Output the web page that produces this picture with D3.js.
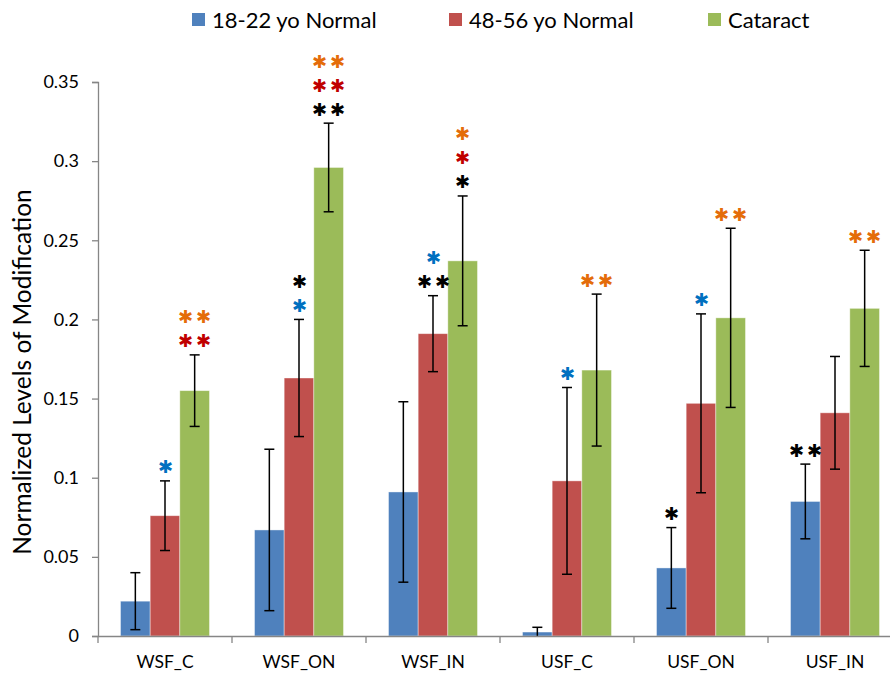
<!DOCTYPE html>
<html>
<head>
<meta charset="utf-8">
<script src="https://cdn.jsdelivr.net/npm/d3@7"></script>
<style>
  html, body { margin: 0; padding: 0; background: #fff; }
  svg { display: block; }
  text { font-family: Lato, "Open Sans", sans-serif; fill: #000; }
</style>
</head>
<body>
<svg id="chart" width="890" height="675"></svg>
<script>
// ---- data ----
const categories = ["WSF_C", "WSF_ON", "WSF_IN", "USF_C", "USF_ON", "USF_IN"];
const seriesNames = ["18-22 yo Normal", "48-56 yo Normal", "Cataract"];
const youngValues   = [0.022, 0.067, 0.091, 0.0025, 0.043, 0.085];
const youngErrors   = [0.018, 0.051, 0.057, 0.003, 0.0255, 0.0236];
const middleValues  = [0.076, 0.163, 0.191, 0.098, 0.147, 0.141];
const middleErrors  = [0.022, 0.037, 0.024, 0.059, 0.0565, 0.0356];
const cataractValues = [0.155, 0.296, 0.237, 0.168, 0.201, 0.207];
const cataractErrors = [0.0226, 0.028, 0.041, 0.048, 0.0566, 0.0367];
const yTickValues = [0, 0.05, 0.1, 0.15, 0.2, 0.25, 0.3, 0.35];
// significance marks: [category, series index, stack of [text, colour key] from bottom to top]
const significance = [
  ["WSF_C", 1, [["*", "blue"]]],
  ["WSF_C", 2, [["**", "red"], ["**", "orange"]]],
  ["WSF_ON", 1, [["*", "blue"], ["*", "black"]]],
  ["WSF_ON", 2, [["**", "black"], ["**", "red"], ["**", "orange"]]],
  ["WSF_IN", 1, [["**", "black"], ["*", "blue"]]],
  ["WSF_IN", 2, [["*", "black"], ["*", "red"], ["*", "orange"]]],
  ["USF_C", 1, [["*", "blue"]]],
  ["USF_C", 2, [["**", "orange"]]],
  ["USF_ON", 0, [["*", "black"]]],
  ["USF_ON", 1, [["*", "blue"]]],
  ["USF_ON", 2, [["**", "orange"]]],
  ["USF_IN", 0, [["**", "black"]]],
  ["USF_IN", 2, [["**", "orange"]]]
];

// ---- styles ----
const barColors = ["#4F81BD", "#C0504D", "#9BBB59"];
const starColors = { blue: "#0070C0", red: "#C00000", orange: "#E46C0A", black: "#000000" };
const axisColor = "#868686";

const seriesValues = [youngValues, middleValues, cataractValues];
const seriesErrors = [youngErrors, middleErrors, cataractErrors];

const svg = d3.select("#chart");
const plot = { left: 98, right: 902, top: 82, bottom: 636 };

const x0 = d3.scaleBand().domain(categories).range([plot.left, plot.right])
  .paddingInner(0.336).paddingOuter(0.168);
const x1 = d3.scaleBand().domain(d3.range(seriesNames.length)).range([0, x0.bandwidth()]);
const y = d3.scaleLinear().domain([0, 0.35]).range([plot.bottom, plot.top]);

// bars
const groups = svg.append("g").selectAll("g").data(categories).join("g")
  .attr("transform", c => `translate(${x0(c)},0)`);

groups.selectAll("rect").data((c, i) => seriesValues.map((s, k) => ({ k, v: s[i] })))
  .join("rect")
  .attr("x", d => x1(d.k))
  .attr("width", x1.bandwidth())
  .attr("y", d => y(d.v))
  .attr("height", d => y(0) - y(d.v))
  .attr("fill", d => barColors[d.k])
  .attr("stroke", "#ffffff").attr("stroke-opacity", 0.5).attr("stroke-width", 0.8);

// error bars
const errData = [];
categories.forEach((c, i) => {
  seriesValues.forEach((s, k) => {
    errData.push({ c, k, v: s[i], e: seriesErrors[k][i] });
  });
});
const capW = 5;
const eg = svg.append("g").attr("stroke", "#000").attr("stroke-width", 1.5);
errData.forEach(d => {
  const cx = x0(d.c) + x1(d.k) + x1.bandwidth() / 2;
  const hi = d.v + d.e, lo = Math.max(0, d.v - d.e);
  eg.append("line").attr("x1", cx).attr("x2", cx).attr("y1", y(hi)).attr("y2", y(lo));
  eg.append("line").attr("x1", cx - capW).attr("x2", cx + capW).attr("y1", y(hi)).attr("y2", y(hi));
  if (lo > 0) eg.append("line").attr("x1", cx - capW).attr("x2", cx + capW).attr("y1", y(lo)).attr("y2", y(lo));
});

// y axis
const yAxis = d3.axisLeft(y).tickValues(yTickValues).tickSize(6).tickPadding(13)
  .tickFormat(v => String(+v.toFixed(2)));
const yg = svg.append("g").attr("transform", `translate(${plot.left},0)`).call(yAxis);
yg.select(".domain").attr("stroke", axisColor).attr("stroke-width", 1.3);
yg.selectAll(".tick line").attr("stroke", axisColor).attr("stroke-width", 1.3);
yg.selectAll(".tick text").attr("font-size", 18).attr("font-family", "Lato, sans-serif").attr("fill", "#000");

// x axis
const xAxis = d3.axisBottom(x0).tickSize(0).tickPadding(20);
const xg = svg.append("g").attr("transform", `translate(0,${plot.bottom})`).call(xAxis);
xg.select(".domain").attr("stroke", axisColor).attr("stroke-width", 1.3);
xg.selectAll(".tick text").attr("font-size", 17.5).attr("font-family", "Lato, sans-serif").attr("fill", "#000");
// category boundary ticks
const step = x0.step();
const boundaries = d3.range(categories.length + 1).map(i => x0(categories[0]) - step * x0.paddingOuter() + i * step);
xg.selectAll(".bound").data(boundaries).join("line").attr("class", "bound")
  .attr("x1", d => d).attr("x2", d => d).attr("y1", 0).attr("y2", 7)
  .attr("stroke", axisColor).attr("stroke-width", 1.3);

// y axis title
svg.append("text")
  .attr("transform", `translate(31,372) rotate(-90)`)
  .attr("text-anchor", "middle").attr("font-size", 24.5)
  .text("Normalized Levels of Modification");

// legend
const legendX = [192, 449, 708];
const lg = svg.append("g");
seriesNames.forEach((n, k) => {
  lg.append("rect").attr("x", legendX[k]).attr("y", 13).attr("width", 13).attr("height", 13).attr("fill", barColors[k]);
  lg.append("text").attr("x", legendX[k] + 20).attr("y", 28).attr("font-size", 22).text(n);
});

// significance stars
const starSize = 18, gap = 13, rowStep = 24, starSpacing = 3;
const sg = svg.append("g");
significance.forEach(([c, k, rows]) => {
  const i = categories.indexOf(c);
  const cx = x0(c) + x1(k) + x1.bandwidth() / 2;
  const topY = y(seriesValues[k][i] + seriesErrors[k][i]);
  rows.forEach(([t, col], r) => {
    const cy = topY - gap - r * rowStep;
    const multi = t.length > 1;
    sg.append("text")
      .attr("x", cx + (multi ? starSpacing / 2 : 0)).attr("y", cy + starSize * 0.3)
      .attr("text-anchor", "middle")
      .attr("font-family", "'DejaVu Sans', sans-serif")
      .attr("font-size", starSize)
      .attr("letter-spacing", multi ? starSpacing : 0)
      .style("fill", starColors[col])
      .text(t.replace(/\*/g, "\u2731"));
  });
});
</script>
</body>
</html>
